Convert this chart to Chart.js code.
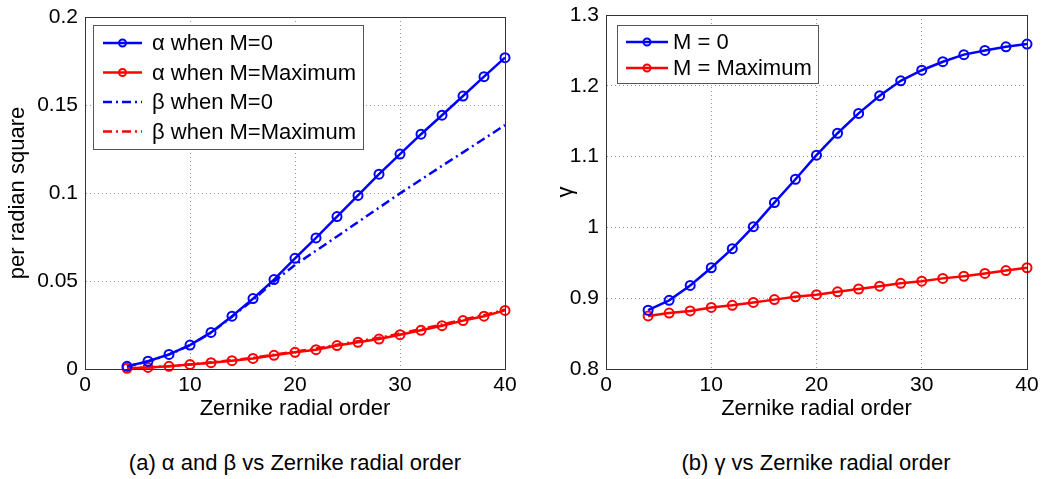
<!DOCTYPE html>
<html>
<head>
<meta charset="utf-8">
<script src="https://cdn.jsdelivr.net/npm/chart.js@4.4.1/dist/chart.umd.min.js"></script>
<style>
  body { margin: 0; background: #fff; width: 1041px; height: 479px; position: relative; overflow: hidden; }
  canvas { position: absolute; top: 0; }
  .caption { position: absolute; top: 450px; font: 22px "Liberation Sans", Arial, sans-serif; line-height: 25px; color: #000; white-space: nowrap; transform: translateX(-50%); }
</style>
</head>
<body>
<canvas id="chartA" width="530" height="440" style="left:0"></canvas>
<canvas id="chartB" width="511" height="440" style="left:530px"></canvas>
<div class="caption" style="left:295px">(a) α and β vs Zernike radial order</div>
<div class="caption" style="left:816px">(b) γ vs Zernike radial order</div>
<script>
// Zernike radial order (x values)
const zernikeOrder = [4, 6, 8, 10, 12, 14, 16, 18, 20, 22, 24, 26, 28, 30, 32, 34, 36, 38, 40];

// (a) alpha and beta, per radian square
const alphaM0  = [0.0015, 0.0044, 0.0083, 0.0136, 0.0208, 0.0300, 0.0400, 0.0508, 0.0629, 0.0745, 0.0866, 0.0986, 0.1107, 0.1221, 0.1334, 0.1442, 0.1551, 0.1661, 0.1769];
const alphaMax = [0.0004, 0.0009, 0.0015, 0.0025, 0.0036, 0.0047, 0.0060, 0.0078, 0.0095, 0.0110, 0.0133, 0.0152, 0.0170, 0.0195, 0.0220, 0.0246, 0.0275, 0.0300, 0.0333];
const betaM0   = [0.0015, 0.0043, 0.0082, 0.0135, 0.0206, 0.0297, 0.0392, 0.0497, 0.0591, 0.0672, 0.0753, 0.0835, 0.0916, 0.0998, 0.1076, 0.1154, 0.1231, 0.1308, 0.1386];
const betaMax  = [0.0004, 0.0009, 0.0016, 0.0026, 0.0038, 0.0050, 0.0064, 0.0081, 0.0099, 0.0116, 0.0138, 0.0158, 0.0177, 0.0202, 0.0227, 0.0253, 0.0281, 0.0306, 0.0338];

// (b) gamma
const gammaM0  = [0.883, 0.897, 0.918, 0.943, 0.970, 1.001, 1.035, 1.068, 1.102, 1.133, 1.161, 1.186, 1.207, 1.222, 1.234, 1.244, 1.250, 1.255, 1.259];
const gammaMax = [0.875, 0.879, 0.882, 0.887, 0.890, 0.894, 0.898, 0.902, 0.905, 0.909, 0.913, 0.917, 0.921, 0.924, 0.928, 0.931, 0.935, 0.939, 0.943];

// ticks
const xTicks  = [0, 10, 20, 30, 40];
const yTicksA = [0, 0.05, 0.1, 0.15, 0.2];
const yTicksB = [0.8, 0.9, 1, 1.1, 1.2, 1.3];

const labelsA = ['α when M=0', 'α when M=Maximum', 'β when M=0', 'β when M=Maximum'];
const labelsB = ['M = 0', 'M = Maximum'];

const BLUE = '#0000ff';
const RED = '#ff0000';
const FONT = '"Liberation Sans", Arial, sans-serif';

Chart.defaults.font.family = FONT;
Chart.defaults.color = '#000';

const pts = ys => zernikeOrder.map((x, i) => ({ x: x, y: ys[i] }));

function series(label, ys, color, markers, dash) {
  return {
    label: label,
    data: pts(ys),
    borderColor: color,
    borderWidth: 2.5,
    borderDash: dash || [],
    pointRadius: markers ? 4.5 : 0,
    pointBorderWidth: 2,
    pointBorderColor: color,
    pointBackgroundColor: 'rgba(0,0,0,0)',
    fill: false,
    tension: 0,
    clip: false
  };
}

// MATLAB-like box round the axes plus a boxed legend inside the plot
const boxPlugin = {
  id: 'boxLegend',
  afterDraw(chart, args, opts) {
    const ctx = chart.ctx;
    const a = chart.chartArea;
    ctx.save();
    ctx.strokeStyle = '#333';
    ctx.lineWidth = 1;
    ctx.strokeRect(Math.round(a.left) + 0.5, Math.round(a.top) + 0.5, Math.round(a.right - a.left), Math.round(a.bottom - a.top));

    const bx = a.left + opts.dx, by = a.top + opts.dy;
    const n = chart.data.datasets.length;
    ctx.fillStyle = '#fff';
    ctx.fillRect(bx, by, opts.width, opts.height);
    ctx.strokeStyle = '#555';
    ctx.strokeRect(Math.round(bx) + 0.5, Math.round(by) + 0.5, opts.width, opts.height);
    ctx.font = '22px ' + FONT;
    ctx.textBaseline = 'middle';
    ctx.textAlign = 'left';
    for (let i = 0; i < n; i++) {
      const ds = chart.data.datasets[i];
      const y = by + opts.firstRow + i * opts.rowHeight;
      ctx.strokeStyle = ds.borderColor;
      ctx.lineWidth = ds.borderWidth;
      ctx.setLineDash(ds.borderDash);
      ctx.beginPath();
      ctx.moveTo(bx + opts.lineStart, y);
      ctx.lineTo(bx + opts.lineEnd, y);
      ctx.stroke();
      ctx.setLineDash([]);
      if (ds.pointRadius > 0) {
        ctx.lineWidth = 2;
        ctx.beginPath();
        ctx.arc(bx + (opts.lineStart + opts.lineEnd) / 2, y, 3.5, 0, Math.PI * 2);
        ctx.stroke();
      }
      ctx.fillStyle = '#000';
      ctx.fillText(ds.label, bx + opts.textX, y + 1);
    }
    ctx.restore();
  }
};

function makeChart(id, datasets, yTicks, yTitle, padding, yWidth, legend) {
  return new Chart(document.getElementById(id), {
    type: 'line',
    data: { datasets: datasets },
    plugins: [boxPlugin],
    options: {
      responsive: false,
      animation: false,
      events: [],
      layout: { padding: padding },
      plugins: {
        legend: { display: false },
        tooltip: { enabled: false },
        boxLegend: legend
      },
      scales: {
        x: {
          type: 'linear',
          min: 0,
          max: 40,
          afterBuildTicks: s => { s.ticks = xTicks.map(v => ({ value: v })); },
          afterFit: s => { s.height = 57; s.paddingLeft = 0; s.paddingRight = 0; },
          ticks: { padding: 4, font: { size: 21 }, callback: v => String(v), maxRotation: 0 },
          grid: { color: '#9a9a9a', lineWidth: 1, drawTicks: false },
          border: { color: '#333', width: 1, dash: [1, 3] },
          title: { display: true, text: 'Zernike radial order', font: { size: 22 }, padding: 4 }
        },
        y: {
          type: 'linear',
          min: yTicks[0],
          max: yTicks[yTicks.length - 1],
          afterBuildTicks: s => { s.ticks = yTicks.map(v => ({ value: v })); },
          afterFit: s => { s.width = yWidth; s.paddingTop = 0; s.paddingBottom = 0; },
          ticks: { padding: 7, font: { size: 21 }, callback: v => String(v) },
          grid: { color: '#9a9a9a', lineWidth: 1, drawTicks: false },
          border: { color: '#333', width: 1, dash: [1, 3] },
          title: { display: true, text: yTitle, font: { size: 22 }, padding: 4 }
        }
      }
    }
  });
}

makeChart('chartA', [
  series(labelsA[0], alphaM0, BLUE, true),
  series(labelsA[1], alphaMax, RED, true),
  series(labelsA[2], betaM0, BLUE, false, [9, 4, 2, 4]),
  series(labelsA[3], betaMax, RED, false, [9, 4, 2, 4])
], yTicksA, 'per radian square', { left: 1, top: 17, right: 25, bottom: 14 }, 84,
  { dx: 8, dy: 8, width: 270, height: 124, firstRow: 18, rowHeight: 29.5, lineStart: 10, lineEnd: 49, textX: 59 });

makeChart('chartB', [
  series(labelsB[0], gammaM0, BLUE, true),
  series(labelsB[1], gammaMax, RED, true)
], yTicksB, 'γ', { left: 19, top: 15, right: 14, bottom: 14 }, 57,
  { dx: 11, dy: 10, width: 201, height: 58, firstRow: 17, rowHeight: 26, lineStart: 9, lineEnd: 51, textX: 56 });
</script>
</body>
</html>
